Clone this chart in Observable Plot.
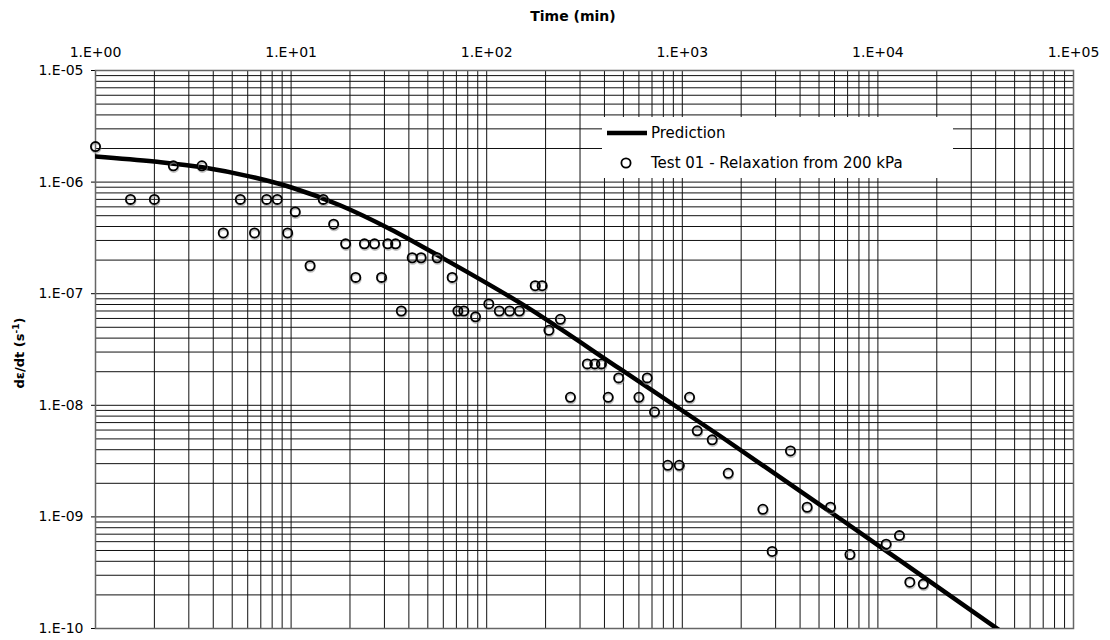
<!DOCTYPE html>
<html>
<head>
<meta charset="utf-8">
<script src="https://cdn.jsdelivr.net/npm/d3@7"></script>
<script src="https://cdn.jsdelivr.net/npm/@observablehq/plot@0.6"></script>
<style>
  html, body { margin: 0; padding: 0; background: #fff; }
  #chart svg { display: block; }
</style>
</head>
<body>
<div id="chart"></div>
<script>
// Measured strain rate during relaxation (Test 01, from 200 kPa)
const testTime = [1, 1.51, 2.0, 2.5, 3.5, 4.5, 5.5, 6.5, 7.5, 8.5, 9.6, 10.5, 12.5, 14.6, 16.5, 19, 21.4, 23.7, 26.7, 29, 31.2, 34.2, 36.6, 41.6, 46.2, 55.8, 66.6, 71.2, 76.4, 87.7, 102.5, 116, 131, 147, 177, 192, 208, 238, 268, 327, 357, 386, 418, 473, 600, 662, 721, 843, 965, 1089, 1192, 1422, 1717, 2582, 2880, 3573, 4348, 5723, 7196, 11020, 12890, 14560, 17060];
const testRate = [2.08e-6, 7.0e-7, 7.0e-7, 1.4e-6, 1.4e-6, 3.5e-7, 7.0e-7, 3.5e-7, 7.0e-7, 7.0e-7, 3.5e-7, 5.4e-7, 1.78e-7, 7.0e-7, 4.2e-7, 2.8e-7, 1.4e-7, 2.8e-7, 2.8e-7, 1.4e-7, 2.8e-7, 2.8e-7, 7.0e-8, 2.1e-7, 2.1e-7, 2.1e-7, 1.4e-7, 7.0e-8, 7.0e-8, 6.2e-8, 8.1e-8, 7.0e-8, 7.0e-8, 7.0e-8, 1.18e-7, 1.18e-7, 4.7e-8, 5.9e-8, 1.18e-8, 2.35e-8, 2.35e-8, 2.35e-8, 1.18e-8, 1.76e-8, 1.18e-8, 1.76e-8, 8.7e-9, 2.9e-9, 2.9e-9, 1.18e-8, 5.9e-9, 4.9e-9, 2.46e-9, 1.17e-9, 4.9e-10, 3.9e-9, 1.22e-9, 1.22e-9, 4.6e-10, 5.7e-10, 6.8e-10, 2.6e-10, 2.5e-10];

// Model prediction curve
const predTime = [1, 2.0, 3.52, 6.2, 10.05, 17.9, 32.2, 58.0, 148.9, 483.2, 1568, 6439, 13050, 42340];
const predRate = [1.70e-6, 1.53e-6, 1.36e-6, 1.12e-6, 8.95e-7, 6.17e-7, 3.78e-7, 2.14e-7, 8.22e-8, 2.106e-8, 5.28e-9, 9.58e-10, 4.03e-10, 9.5e-11];

// Axis decades
const xTicks = [1, 1e1, 1e2, 1e3, 1e4, 1e5];
const yTicks = [1e-10, 1e-9, 1e-8, 1e-7, 1e-6, 1e-5];

const seriesNames = ["Prediction", "Test 01 - Relaxation from 200 kPa"];

const test = testTime.map((t, i) => ({t, v: testRate[i]}));
const pred = predTime.map((t, i) => ({t, v: predRate[i]}));

// Log gridlines: 1..9 within every decade
function logGrid(ticks) {
  const out = [];
  for (let i = 0; i < ticks.length - 1; i++)
    for (let m = 1; m <= 9; m++) out.push(m * ticks[i]);
  out.push(ticks[ticks.length - 1]);
  return out;
}
const xGrid = logGrid(xTicks);
const yGrid = logGrid(yTicks);

const sci = d => {
  const e = Math.round(Math.log10(d));
  return "1.E" + (e < 0 ? "-" : "+") + String(Math.abs(e)).padStart(2, "0");
};

const W = 1110, H = 640;
const chart = Plot.plot({
  width: W,
  height: H,
  marginLeft: 95,
  marginRight: 37,
  marginTop: 70,
  marginBottom: 12,
  style: {fontFamily: "'DejaVu Sans', Verdana, sans-serif", fontSize: "14px", color: "#000", background: "#fff"},
  x: {type: "log", domain: [1, 1e5], axis: "top", ticks: xTicks, tickFormat: sci, tickSize: 0, tickPadding: 14, label: null},
  y: {type: "log", domain: [1e-10, 1e-5], axis: "left", ticks: yTicks, tickFormat: sci, tickSize: 4, tickPadding: 8, label: null},
  marks: [
    Plot.ruleX(xGrid, {stroke: "#111", strokeWidth: 1}),
    Plot.ruleY(yGrid, {stroke: "#111", strokeWidth: 1}),
    Plot.frame({stroke: "#666", strokeWidth: 1.5}),
    Plot.line(pred, {x: "t", y: "v", stroke: "#000", strokeWidth: 4.5, curve: "monotone-x", clip: true}),
    Plot.dot(test, {x: "t", y: "v", r: 4.6, stroke: "#999", strokeOpacity: 0.6, strokeWidth: 1.8, fill: "none", dy: 1.6, dx: 0.5}),
    Plot.dot(test, {x: "t", y: "v", r: 4.6, stroke: "#000", strokeWidth: 1.8, fill: "none"})
  ]
});

const svg = d3.select(chart);

// Axis titles
svg.append("text")
  .attr("x", 573).attr("y", 21)
  .attr("text-anchor", "middle")
  .attr("font-weight", "bold").attr("font-size", 14)
  .text("Time (min)");

const yl = svg.append("text")
  .attr("transform", "translate(24,353) rotate(-90)")
  .attr("text-anchor", "middle")
  .attr("font-weight", "bold").attr("font-size", 13);
yl.append("tspan").text("dε/dt (s");
yl.append("tspan").attr("font-size", 9).attr("dy", -5).text("-1");
yl.append("tspan").attr("dy", 5).text(")");

// Legend
const lg = svg.append("g").attr("font-size", 15).attr("text-anchor", "start");
lg.append("rect").attr("x", 602).attr("y", 117).attr("width", 351).attr("height", 61).attr("fill", "#fff");
lg.append("line").attr("x1", 607).attr("x2", 647).attr("y1", 133).attr("y2", 133)
  .attr("stroke", "#000").attr("stroke-width", 4.5);
lg.append("text").attr("x", 651).attr("y", 133).attr("dy", "0.35em").text(seriesNames[0]);
lg.append("circle").attr("cx", 626).attr("cy", 163).attr("r", 4.6)
  .attr("fill", "none").attr("stroke", "#000").attr("stroke-width", 1.8);
lg.append("text").attr("x", 651).attr("y", 163).attr("dy", "0.35em").text(seriesNames[1]);

document.getElementById("chart").append(chart);
</script>
</body>
</html>
